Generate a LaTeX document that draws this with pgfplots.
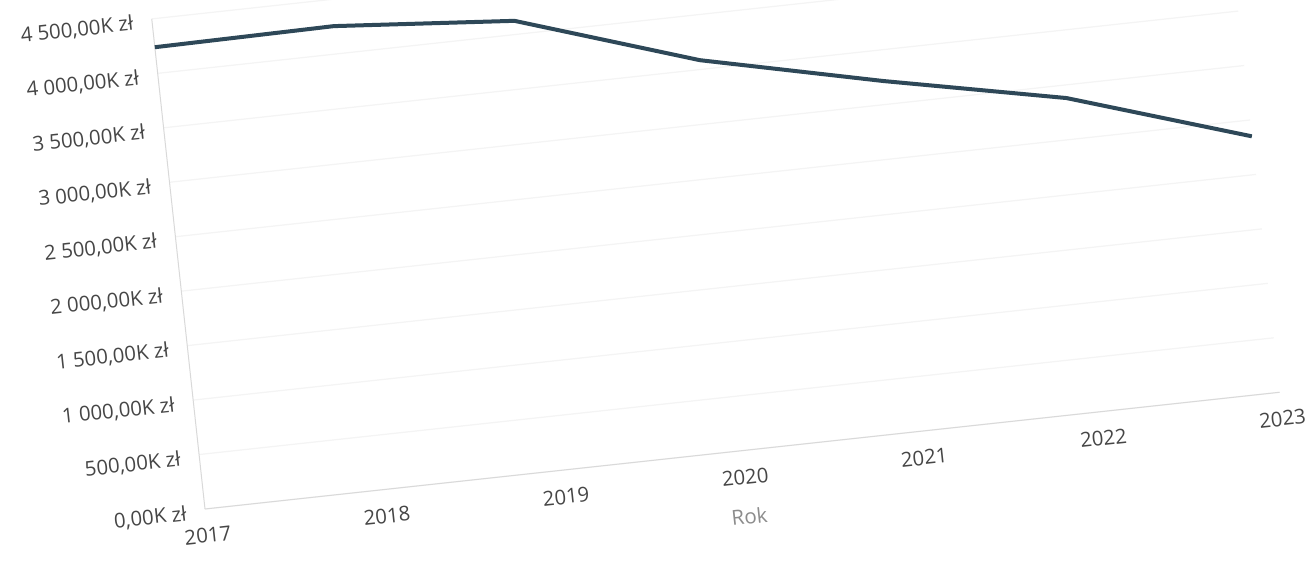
\documentclass[border=0pt]{standalone}
\usepackage{fontspec}
\setmainfont{Open Sans}
\usepackage{pgfplots}
\pgfplotsset{compat=1.18}
\definecolor{linec}{RGB}{46,72,88}
\definecolor{tickc}{RGB}{70,70,70}
\definecolor{labc}{RGB}{140,140,140}
\begin{document}
\begin{tikzpicture}
\useasboundingbox (0,0) rectangle (655.5pt,281pt);
\fill[white] (0,0) rectangle (655.5pt,281pt);
\begin{scope}[transform canvas={rotate around={6.2:(102.5pt,26.5pt)}}]
\begin{axis}[
  at={(102.5pt,26.5pt)}, anchor=south west,
  width=540.5pt, height=246.5pt, scale only axis,
  xmin=2017, xmax=2023, ymin=0, ymax=4500,
  xtick={2017,2018,2019,2020,2021,2022,2023},
  xticklabels={2017,2018,2019,2020,2021,2022,2023},
  ytick={0,500,1000,1500,2000,2500,3000,3500,4000,4500},
  yticklabels={{0,00K zł},{500,00K zł},{1 000,00K zł},{1 500,00K zł},{2 000,00K zł},{2 500,00K zł},{3 000,00K zł},{3 500,00K zł},{4 000,00K zł},{4 500,00K zł}},
  axis x line=bottom, axis y line=left,
  axis line style={draw=gray!30, line width=0.5pt, -},
  major tick length=0pt,
  tick style={draw=none},
  xmajorgrids=false, ymajorgrids=true,
  major grid style={draw=gray!9, line width=0.6pt},
  yticklabel style={font=\fontsize{10.2pt}{12pt}\selectfont, text=tickc, xshift=-6pt, yshift=-1.5pt},
  xticklabel style={font=\fontsize{10.2pt}{12pt}\selectfont, text=tickc, yshift=-6pt},
  xlabel={Rok},
  every axis x label/.style={at={(axis description cs:0.5,0)}, anchor=center, yshift=-33pt, font=\fontsize{10.3pt}{12pt}\selectfont, text=labc},
  clip=false,
]
\addplot[linec, line width=2pt, line join=round] coordinates {
  (2017,4240) (2018,4255) (2019,4125) (2020,3585) (2021,3215) (2022,2880) (2023,2350)
};
\end{axis}
\end{scope}
\end{tikzpicture}
\end{document}
